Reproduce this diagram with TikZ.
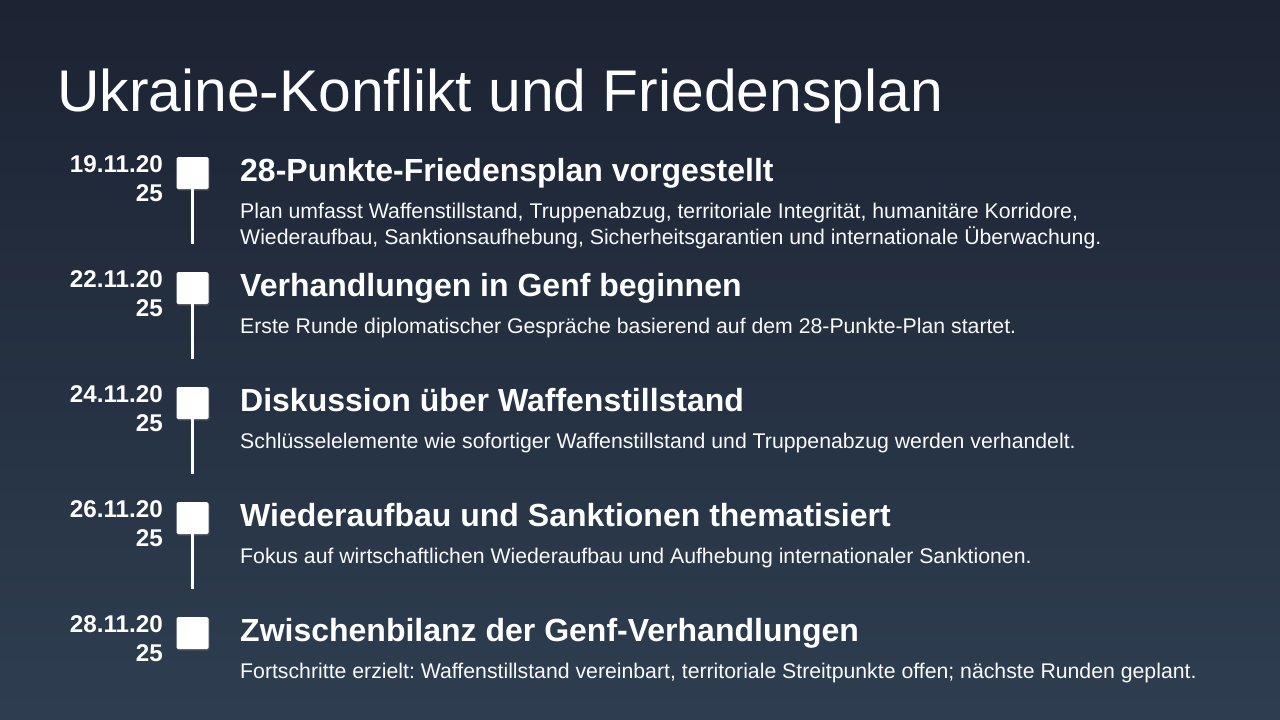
\documentclass[tikz,border=0pt]{standalone}
\usepackage{fontspec}
\setmainfont{Liberation Sans}
\frenchspacing
\usetikzlibrary{shadows}
\definecolor{bgtop}{RGB}{28,35,51}
\definecolor{bgbot}{RGB}{46,62,80}
\tikzset{
  datetxt/.style={anchor=base east, inner sep=0pt, text=white, font=\fontsize{24.2}{29}\selectfont\bfseries, align=right},
  headtxt/.style={anchor=base west, inner sep=0pt, text=white, font=\fontsize{32}{36}\selectfont\bfseries},
  bodytxt/.style={anchor=base west, inner sep=0pt, text=white!96!gray, font=\fontsize{21.25}{26}\selectfont, align=left},
  marker/.style={fill=white, draw=none, rounded corners=1.5pt, minimum width=32pt, minimum height=32pt, inner sep=0pt,
     drop shadow={shadow xshift=1pt, shadow yshift=-1.5pt, opacity=0.35}},
  stem/.style={draw=white, line width=3pt}
}
\begin{document}
\begin{tikzpicture}[x=1pt,y=-1pt]
\shade[top color=bgtop, bottom color=bgbot] (0,0) rectangle (1280,720);
\useasboundingbox (0,0) rectangle (1280,720);
\node[anchor=base west, inner sep=0pt, text=white, font=\fontsize{58.8}{70}\selectfont] (title) at (57,111) {Ukraine-Konflikt und Friedensplan};

% row 1
\node[marker] (m1) at (192.5,173) {};
\coordinate (e1) at (192.5,244);
\draw[stem] (m1.south) -- (e1);
\node[datetxt] (d1) at (163,201) {19.11.20\\25};
\node[headtxt] (h1) at (240,181.5) {28-Punkte-Friedensplan vorgestellt};
\node[bodytxt] (b1) at (240,244) {Plan umfasst Waffenstillstand, Truppenabzug, territoriale Integrität, humanitäre Korridore,\\Wiederaufbau, Sanktionsaufhebung, Sicherheitsgarantien und internationale Überwachung.};

% row 2
\node[marker] (m2) at (192.5,288) {};
\coordinate (e2) at (192.5,359);
\draw[stem] (m2.south) -- (e2);
\node[datetxt] (d2) at (163,316) {22.11.20\\25};
\node[headtxt] (h2) at (240,296.5) {Verhandlungen in Genf beginnen};
\node[bodytxt] (b2) at (240,333) {Erste Runde diplomatischer Gespräche basierend auf dem 28-Punkte-Plan startet.};

% row 3
\node[marker] (m3) at (192.5,403) {};
\coordinate (e3) at (192.5,474);
\draw[stem] (m3.south) -- (e3);
\node[datetxt] (d3) at (163,431) {24.11.20\\25};
\node[headtxt] (h3) at (240,411.5) {Diskussion über Waffenstillstand};
\node[bodytxt] (b3) at (240,448) {Schlüsselelemente wie sofortiger Waffenstillstand und Truppenabzug werden verhandelt.};

% row 4
\node[marker] (m4) at (192.5,518) {};
\coordinate (e4) at (192.5,589);
\draw[stem] (m4.south) -- (e4);
\node[datetxt] (d4) at (163,546) {26.11.20\\25};
\node[headtxt] (h4) at (240,526.5) {Wiederaufbau und Sanktionen thematisiert};
\node[bodytxt] (b4) at (240,563) {Fokus auf wirtschaftlichen Wiederaufbau und Aufhebung internationaler Sanktionen.};

% row 5
\node[marker] (m5) at (192.5,633) {};
\node[datetxt] (d5) at (163,661) {28.11.20\\25};
\node[headtxt] (h5) at (240,641.5) {Zwischenbilanz der Genf-Verhandlungen};
\node[bodytxt] (b5) at (240,678) {Fortschritte erzielt: Waffenstillstand vereinbart, territoriale Streitpunkte offen; nächste Runden geplant.};
\end{tikzpicture}
\end{document}
